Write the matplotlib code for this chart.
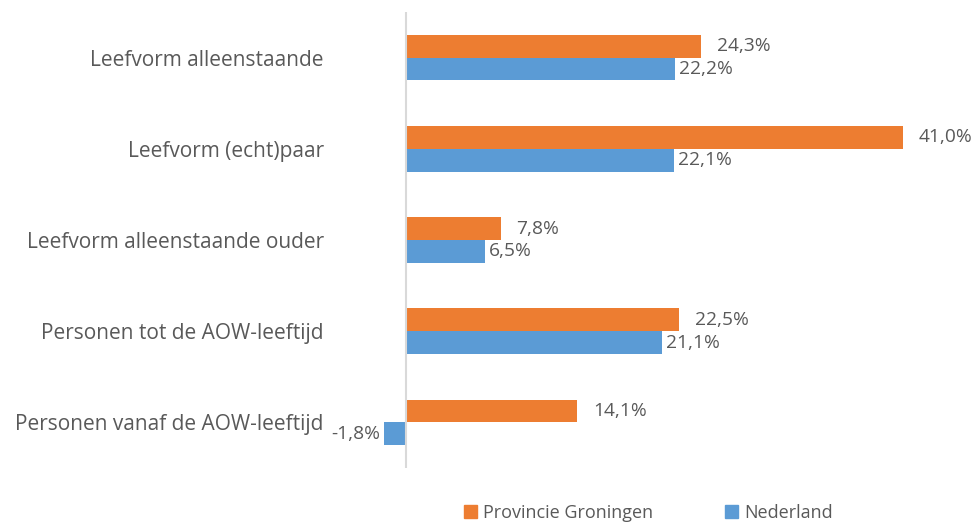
import numpy as np
import matplotlib.pyplot as plt
from matplotlib.patches import Patch

plt.rcParams['font.family'] = ['Open Sans', 'DejaVu Sans']

# Gegevens uit de grafiek
categorieen = ['Leefvorm alleenstaande', 'Leefvorm (echt)paar',
               'Leefvorm alleenstaande ouder', 'Personen tot de AOW-leeftijd',
               'Personen vanaf de AOW-leeftijd']
groningen = [24.3, 41.0, 7.8, 22.5, 14.1]
nederland = [22.2, 22.1, 6.5, 21.1, -1.8]
series = ['Provincie Groningen', 'Nederland']

oranje = '#ED7D31'
blauw = '#5B9BD5'
grijs = '#595959'

fig = plt.figure(figsize=(9.75, 5.23), dpi=100)
ax = fig.add_axes([0.3419, 0.1052, 0.6464, 0.8719])

y = np.arange(len(categorieen))
h = 0.25
ax.barh(y - h / 2, groningen, height=h, color=oranje)
ax.barh(y + h / 2, nederland, height=h, color=blauw)

ax.set_xlim(-6, 46)
ax.set_ylim(len(categorieen) - 0.5, -0.5)
ax.axvline(0, color='#D9D9D9', lw=1.5)

for s in ax.spines.values():
    s.set_visible(False)
ax.set_xticks([])
ax.set_yticks(y)
ax.set_yticklabels(categorieen, fontsize=15, color=grijs)
ax.tick_params(axis='y', length=0, pad=7)


def label(v):
    return ('%.1f%%' % v).replace('.', ',')


px = 1 / 12.12  # waarde per pixel
for i, v in enumerate(groningen):
    ax.text(v + 16 * px, i - h / 2, label(v), va='center', ha='left',
            fontsize=13.8, color=grijs)
for i, v in enumerate(nederland):
    if v >= 0:
        ax.text(v + 4 * px, i + h / 2, label(v), va='center', ha='left',
                fontsize=13.8, color=grijs)
    else:
        ax.text(v - 4 * px, i + h / 2, label(v), va='center', ha='right',
                fontsize=13.8, color=grijs)

handles = [Patch(color=oranje), Patch(color=blauw)]
fig.legend(handles, series, loc='center', bbox_to_anchor=(648 / 975, 1 - 513 / 523),
           ncol=2, frameon=False, fontsize=13, handlelength=0.75, handleheight=0.75,
           handletextpad=0.3, columnspacing=4, labelcolor=grijs)

fig.savefig('out.png', dpi=100)
